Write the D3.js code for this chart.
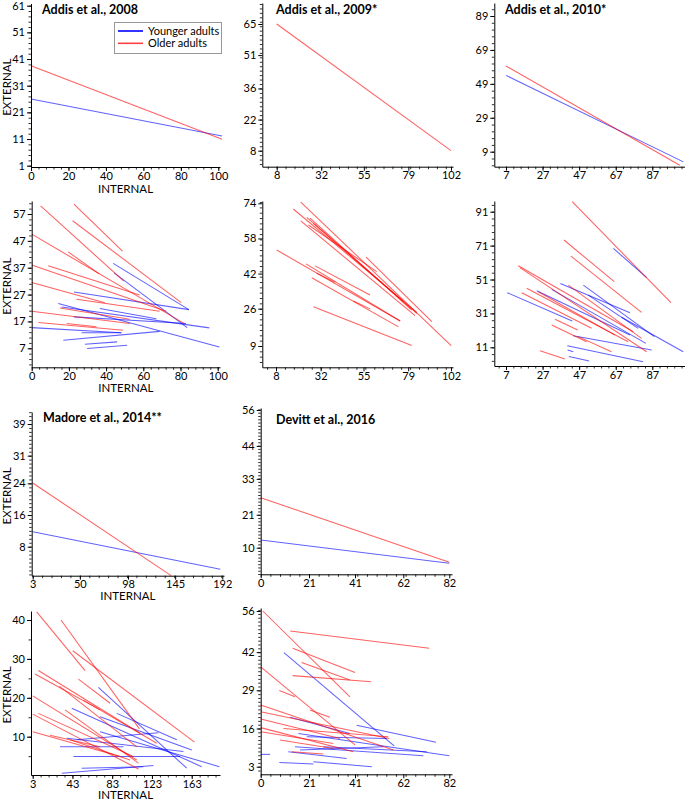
<!DOCTYPE html>
<html><head><meta charset="utf-8">
<script src="https://cdn.jsdelivr.net/npm/d3@7"></script>
<style>
body{margin:0;background:#fff;}
text{font-family:Lato,"Open Sans",sans-serif;}
</style></head>
<body>
<script>
// ---------------- DATA ----------------
const seriesNames = ["Younger adults", "Older adults"];

// tick labels
const xTicks2008 = [0,20,40,60,80,100];
const yTicks2008 = [1,11,21,31,41,51,61];
const xTicks2009 = [8,32,55,79,102];
const yTicks2009 = [8,22,36,51,65];
const xTicks2010 = [7,27,47,67,87];
const yTicks2010 = [9,29,49,69,89];
const yTicks2008d = [7,17,27,37,47,57];
const yTicks2009d = [9,26,42,58,74];
const yTicks2010d = [11,31,51,71,91];
const xTicksMadore = [3,50,98,145,192];
const yTicksMadore = [8,16,24,31,39];
const xTicksDevitt = [0,21,41,62,82];
const yTicksDevitt = [10,21,33,44,56];
const xTicksMadoreD = [3,43,83,123,163];
const yTicksMadoreD = [10,20,30,40];
const yTicksDevittD = [3,16,29,42,56];

// group regression lines: [x1, y1, x2, y2]
const young2008 = [[0,26,102,12.1]];
const old2008   = [[0,38.5,102,10.9]];
const young2009 = [];
const old2009   = [[8,65,102,8]];
const young2010 = [[7,54,104,3]];
const old2010   = [[7,59.5,102,1]];
const youngMadore = [[3,11.8,190,2.3]];
const oldMadore   = [[3,24.1,141,0.7]];
const youngDevitt = [[0,12.6,82,4.8]];
const oldDevitt   = [[0,26.7,82,5.1]];

// individual regression lines
const young2008d = [
 [43.8,38.6,84.5,21.4],[44.3,35.1,83.6,14.7],[22.7,28.0,84.5,21.4],[14.3,23.7,100.9,7.5],
 [16.1,22.4,95.5,14.6],[0,14.7,48.2,12.8],[17.0,10.0,68.8,13.3],[26.8,12.8,48.2,12.8],
 [28.6,8.5,45.9,9.4],[29.8,6.9,51.3,8.1],[22.7,18.7,83.0,16.2],[36.6,21.8,67,18]
];
const old2008d = [
 [4.8,60.0,49.5,32.0],[22.7,60.7,48.8,43.2],[22.0,54.5,80.4,24.0],[0,49.5,82.1,16.2],
 [19.6,42.9,36.3,34.7],[0,38.0,72.3,20.8],[8.9,37.7,58.0,26.8],[0,31.5,39.3,24.0],
 [0,20.8,52.7,16.2],[3.6,16.6,49.1,13.7],[15.2,22.0,52.7,17.8],[24.1,25.3,68.8,20.8],
 [18.8,16.2,34.8,15.0]
];
const young2009d = [];
const old2009d = [
 [21.3,74.5,102.1,9.2],[17.3,71.4,83.6,24.3],[24.5,67.6,83.6,23.9],[21.3,66.0,82.7,22.8],
 [26.3,67.2,80.9,25.4],[28.1,64.9,76.5,29.2],[25.4,64.1,62.1,42.9],[56.4,49.5,91.7,20.1],
 [8.4,52.7,74.7,20.4],[24.1,46.4,74.7,20.4],[29.0,45.5,58.5,32.2],[27.2,40.1,73.8,17.7],
 [28.1,26.9,80.9,9.2],[29.9,42.1,39.7,38.0],[49.6,29.5,58.5,25.9]
];
const young2010d = [
 [65.7,69.4,83.9,52.1],[7.7,43.2,43.2,26.5],[23.8,44.4,74.8,18.2],[36.7,48.7,74.8,31.4],
 [49.3,47.7,88.1,17.3],[32.0,45.2,83.5,13.3],[70.2,28.7,103.9,8.4],[43.8,17.8,86.6,9.4],
 [40.5,11.9,82.0,2.5],[41.4,5.6,52.5,2.9],[40.7,9.4,43.8,8.4],[52,41.8,79.3,22.2]
];
const old2010d = [
 [43.2,96.9,97.2,37.3],[38.7,74.3,66.2,49.7],[42.5,64.8,81.1,31.6],[13.7,59.1,76.6,20.2],
 [14.6,58.0,83.9,8.4],[18.3,45.8,73.8,14.3],[15.6,43.2,53.8,22.2],[41.1,47.7,81.1,16.3],
 [33.8,27.5,46.2,21.2],[32.0,24.1,51.1,14.3],[25.6,9.0,39.2,4.1],[46.5,17.3,64.7,8.4],
 [24.7,43.8,66.6,18.2]
];
const youngMadored = [
 [69.1,22.7,158.0,1.9],[42.3,17.3,173.1,2.3],[70.8,11.3,190.9,2.3],[37.2,9.6,154.7,6.2],
 [47.3,9.2,129.5,11.0],[32.2,0.6,124.5,2.6],[52.3,1.9,114.4,2.3],[43.9,4.9,151.3,4.9],
 [70.8,15.1,163.1,6.6],[30.5,7.4,94.3,7.4],[87.6,16.0,148,9.2]
];
const oldMadored = [
 [7.0,42.1,55.7,27.0],[31.5,40.0,110.4,12.0],[43.3,32.1,165.8,8.6],[8.7,27.0,111.1,10.9],
 [5.3,26.1,70.8,16.9],[49.0,24.8,80.9,18.6],[3,20.5,107.7,4.0],[29.8,23.0,107.7,7.4],
 [3,15.8,109.4,1.7],[8.7,16.0,104.3,4.9],[35.6,16.9,109.4,3.2],[20.4,10.4,70.8,7.4],
 [3,11.3,90.9,4.9],[54,19.4,127.8,8.3],[40.6,9.2,101,4.0]
];
const youngDevittd = [
 [10.1,41.8,58.0,10.1],[41.7,17.1,76.2,11.3],[12.8,19.8,38.8,14.3],[16.4,14.3,82.0,6.7],
 [0,7.2,4.1,7.2],[8.1,4.4,22.9,3.9],[22.9,4.7,48.3,3.0],[12.0,8.1,37.4,5.8],
 [14.9,9.8,70.7,6.7],[17.1,8.7,53.3,9.8],[20.0,13.2,54.8,12.6],[27.2,9.8,72.2,8.1]
];
const oldDevittd = [
 [0.9,56.0,38.8,26.8],[12.8,49.2,73.3,43.3],[13.9,43.3,41.0,35.1],[17.8,38.5,38.8,32.5],
 [13.9,34.0,48.0,31.9],[0,37.0,41.0,10.4],[8.1,28.9,14.9,26.8],[0,24.0,57.7,8.7],
 [21.4,22.3,30.1,19.8],[0,21.7,55.9,12.6],[0,19.2,34.5,12.6],[0,16.3,40.3,8.1],
 [0,14.9,31.6,10.9],[8.4,12.1,31.6,9.2],[13.5,8.1,27.2,7.3],[9.9,16,55.5,13.2]
];

// ---------------- LAYOUT ----------------
const svg = d3.select("body").append("svg").attr("width",685).attr("height",800);
const BLUE = "#0000ff", RED = "#ff0000";

const panels = [
 {title:"Addis et al., 2008", xt:xTicks2008, yt:yTicks2008, young:young2008, old:old2008,
  xp:[31,218.3], yp:[165.7,5.7], ax:[31,220], ay:[167,3.5], xl:25.5, yl:true, legend:true, tx:42, ty:14, minX:5, minY:5},
 {title:"Addis et al., 2009*", xt:xTicks2009, yt:yTicks2009, young:young2009, old:old2009,
  xp:[276.7,451], yp:[150.7,24], ax:[262.3,453], ay:[166.7,3], tx:276, ty:14, minX:5, minY:7},
 {title:"Addis et al., 2010*", xt:xTicks2010, yt:yTicks2010, young:young2010, old:old2010,
  xp:[506,652.3], yp:[151.7,16], ax:[494.3,685], ay:[166.7,3], tx:505, ty:14, minX:5, minY:5},
 {xt:xTicks2008, yt:yTicks2008d, young:young2008d, old:old2008d,
  xp:[31.7,217.7], yp:[348.3,214], ax:[31.7,220], ay:[367.3,201], xl:25, yl:true, minX:5, minY:5},
 {xt:xTicks2009, yt:yTicks2009d, young:young2009d, old:old2009d,
  xp:[276,451], yp:[346,203.3], ax:[262.3,453], ay:[367.3,201], minX:5, minY:7},
 {xt:xTicks2010, yt:yTicks2010d, young:young2010d, old:old2010d,
  xp:[506,652.3], yp:[347.3,211.7], ax:[494.3,685], ay:[366,201], minX:5, minY:5},
 {title:"Madore et al., 2014**", xt:xTicksMadore, yt:yTicksMadore, young:youngMadore, old:oldMadore,
  xp:[32.7,222.3], yp:[546.7,424], ax:[31.7,224], ay:[575.7,412], xl:24.2, yl:true, tx:43, ty:422, minX:5, minY:8},
 {title:"Devitt et al., 2016", xt:xTicksDevitt, yt:yTicksDevitt, young:youngDevitt, old:oldDevitt,
  xp:[260.7,449.3], yp:[547.7,410], ax:[260.7,452], ay:[574.3,408], tx:276, ty:424, minX:5, minY:10},
 {xt:xTicksMadoreD, yt:yTicksMadoreD, young:youngMadored, old:oldMadored,
  xp:[32.7,191.7], yp:[736.7,620], ax:[31,220], ay:[775,611], xl:24, yl:true, minX:5, minY:2},
 {xt:xTicksDevitt, yt:yTicksDevittD, young:youngDevittd, old:oldDevittd,
  xp:[260.7,449.3], yp:[766.7,611], ax:[260.7,452], ay:[774.3,608], minX:5, minY:10}
];

function minorTicks(scale, ticks, n){
  const out=[];
  const step=(ticks[1]-ticks[0])/n;
  const [d0,d1]=scale.domain();
  const lo=Math.min(d0,d1), hi=Math.max(d0,d1);
  for(let v=ticks[0]-step*200; v<=hi; v+=step){ if(v>=lo-1e-9) out.push(v); }
  return out;
}

panels.forEach(p=>{
  const x0 = d3.scaleLinear().domain([p.xt[0],p.xt[p.xt.length-1]]).range(p.xp);
  const y0 = d3.scaleLinear().domain([p.yt[0],p.yt[p.yt.length-1]]).range(p.yp);
  const x = d3.scaleLinear().domain([x0.invert(p.ax[0]),x0.invert(p.ax[1])]).range(p.ax);
  const y = d3.scaleLinear().domain([y0.invert(p.ay[0]),y0.invert(p.ay[1])]).range(p.ay);
  const g = svg.append("g");

  // lines
  const draw = (arr,col)=>{
    g.append("g").selectAll("line").data(arr).join("line")
      .attr("x1",d=>x(d[0])).attr("y1",d=>y(d[1]))
      .attr("x2",d=>x(d[2])).attr("y2",d=>y(d[3]))
      .attr("stroke",col).attr("stroke-opacity",0.62).attr("stroke-width",1.05);
  };
  draw(p.young,BLUE);
  draw(p.old,RED);

  // minor ticks
  g.append("g").attr("transform",`translate(0,${p.ay[0]})`)
    .call(d3.axisBottom(x).tickValues(minorTicks(x,p.xt,p.minX)).tickSize(2.5).tickSizeOuter(0).tickFormat(""))
    .call(s=>s.select(".domain").remove())
    .call(s=>s.selectAll("line").attr("stroke","#333"));
  g.append("g").attr("transform",`translate(${p.ax[0]},0)`)
    .call(d3.axisLeft(y).tickValues(minorTicks(y,p.yt,p.minY)).tickSize(2.5).tickSizeOuter(0).tickFormat(""))
    .call(s=>s.select(".domain").remove())
    .call(s=>s.selectAll("line").attr("stroke","#333"));
  // major axes
  const xa = g.append("g").attr("transform",`translate(0,${p.ay[0]})`)
    .call(d3.axisBottom(x).tickValues(p.xt).tickSize(4).tickSizeOuter(0).tickPadding(1).tickFormat(d3.format("d")));
  const ya = g.append("g").attr("transform",`translate(${p.ax[0]},0)`)
    .call(d3.axisLeft(y).tickValues(p.yt).tickSize(4).tickSizeOuter(0).tickPadding(2).tickFormat(d3.format("d")));
  [xa,ya].forEach(a=>{
    a.selectAll("path,line").attr("stroke","#000").attr("stroke-width",1);
    a.selectAll("text").attr("font-family","Lato, sans-serif").attr("font-size",11).attr("fill","#000");
  });

  if(p.title){
    g.append("text").attr("x",p.tx).attr("y",p.ty).attr("font-weight","bold")
      .attr("font-size",12.5).text(p.title);
  }
  if(p.xl){
    g.append("text").attr("x",(p.ax[0]+p.ax[1])/2).attr("y",p.ay[0]+p.xl)
      .attr("text-anchor","middle").attr("font-size",11.5).text("INTERNAL");
  }
  if(p.yl){
    const cy=(p.ay[0]+p.ay[1])/2+2;
    g.append("text").attr("transform",`translate(11,${cy}) rotate(-90)`)
      .attr("text-anchor","middle").attr("font-size",11.5).text("EXTERNAL");
  }
  if(p.legend){
    const lg = g.append("g");
    lg.append("rect").attr("x",114.5).attr("y",22.5).attr("width",107).attr("height",31)
      .attr("fill","#fff").attr("stroke","#999").attr("stroke-width",1);
    const cols=[BLUE,RED];
    seriesNames.forEach((n,i)=>{
      const yy=31+i*12.3;
      lg.append("line").attr("x1",118).attr("x2",143).attr("y1",yy).attr("y2",yy)
        .attr("stroke",cols[i]).attr("stroke-width",1.6).attr("stroke-opacity",i?0.75:1);
      lg.append("text").attr("x",148).attr("y",yy+3.8).attr("font-size",11).text(n);
    });
  }
});
</script>
</body></html>
